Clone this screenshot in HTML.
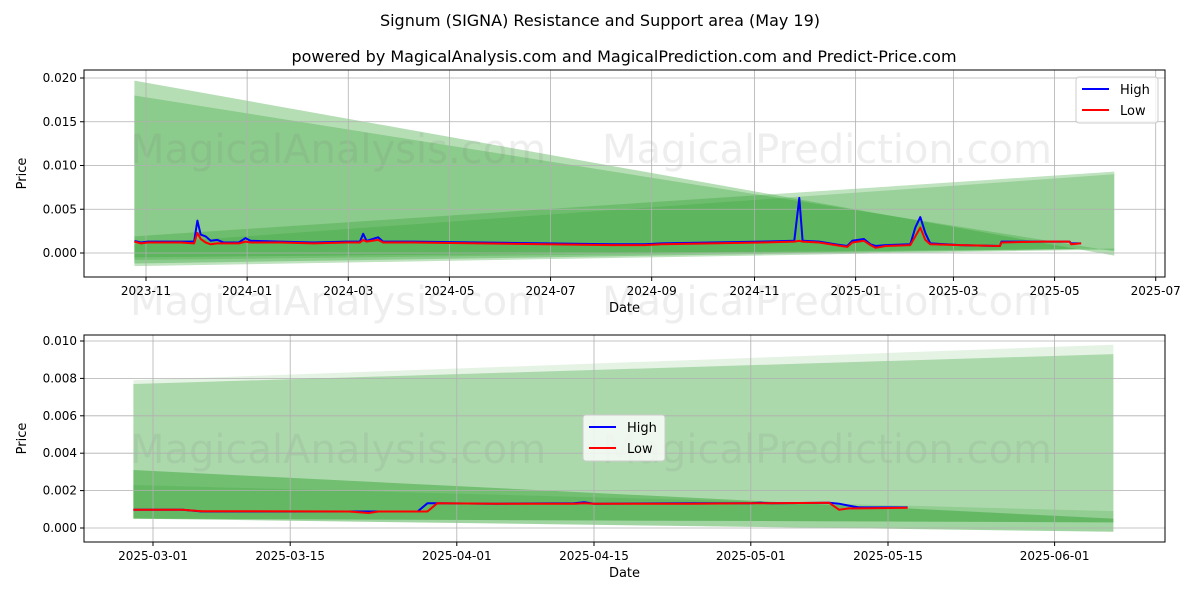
<!DOCTYPE html>
<html><head><meta charset="utf-8">
<style>
body{margin:0;background:#fff;}
svg{display:block;font-family:"DejaVu Sans","Liberation Sans",sans-serif;}
</style></head>
<body>
<svg id="chart" width="1200" height="600" viewBox="0 0 1200 600">
<rect width="1200" height="600" fill="#fff"/>
<text x="600" y="26" text-anchor="middle" font-size="16">Signum (SIGNA) Resistance and Support area (May 19)</text>
<text x="624" y="62" text-anchor="middle" font-size="16">powered by MagicalAnalysis.com and MagicalPrediction.com and Predict-Price.com</text>
<g id="top"></g>
<g id="bot"></g>
</svg>
<script>
// ---- Top chart data (day offsets from 2023-11-01) ----
const topDays = [-8,-4,0,10,20,28,30,32,35,38,42,46,55,59,62,80,100,120,128,130,132,139,142,160,200,240,280,300,310,340,370,390,393,395,405,415,422,425,432,436,439,445,460,463,466,469,472,490,514,515,540,556,557,563];
const topHigh = [.00137,.0012,.0013,.0013,.0013,.0013,.0037,.0021,.0019,.0014,.0015,.0012,.0012,.0017,.0014,.0013,.0012,.0013,.0013,.0022,.0014,.0018,.0013,.0013,.0012,.0011,.0010,.0010,.0011,.0012,.0013,.0014,.0063,.0014,.0013,.0010,.0008,.0014,.0016,.0010,.0008,.0009,.0010,.0029,.0041,.0023,.0011,.0009,.0008,.0013,.0013,.0013,.0011,.0011];
const topLow  = [.0013,.0011,.0012,.0012,.0012,.0011,.0023,.0016,.0012,.0010,.0011,.0011,.0011,.0013,.0012,.0012,.0011,.0012,.0012,.0015,.0013,.0015,.0012,.0012,.0011,.0010,.0009,.0009,.0010,.0011,.0012,.0013,.0014,.0013,.0012,.0009,.0007,.0012,.0014,.0009,.0006,.0008,.0009,.0019,.0029,.0015,.0010,.0009,.0008,.0012,.0013,.0013,.0010,.0011];
const topTickDays = [-1,60,121,182,243,304,366,427,486,547,608];
const topTickLabels = ["2023-11","2024-01","2024-03","2024-05","2024-07","2024-09","2024-11","2025-01","2025-03","2025-05","2025-07"];
const topYTicks = [0,0.005,0.01,0.015,0.02];
const topYLabels = ["0.000","0.005","0.010","0.015","0.020"];
// bands: [startTop,endTop,startBottom,endBottom]
const topBandStart = -8, topBandEnd = 583;
const topBands = [[.0197,-.0003,-.0012,.0005],[.018,.0002,-.0005,.0005],[.0019,.0093,-.0015,.0004],[.001,.009,-.0008,.0005]];

// ---- Bottom chart data (day offsets from 2025-03-01) ----
const botDays = [-2,3,5,20,22,23,27,28,29,35,43,44,45,55,61,62,63,69,70,71,72,77];
const botHigh = [.00098,.00098,.00088,.00088,.00088,.00088,.00088,.00132,.00132,.0013,.00132,.00138,.0013,.00132,.00132,.00135,.00132,.00135,.0013,.0012,.0011,.0011];
const botLow  = [.00098,.00098,.0009,.00088,.0008,.00088,.00088,.00088,.00132,.0013,.0013,.00132,.0013,.0013,.00132,.00132,.00132,.00135,.00098,.00105,.00105,.00108];
const botTickDays = [0,14,31,45,61,75,92];
const botTickLabels = ["2025-03-01","2025-03-15","2025-04-01","2025-04-15","2025-05-01","2025-05-15","2025-06-01"];
const botYTicks = [0,0.002,0.004,0.006,0.008,0.010];
const botYLabels = ["0.000","0.002","0.004","0.006","0.008","0.010"];
const botBandStart = -2, botBandEnd = 98;
const botBands = [[.0077,.0093,.0005,.0003],[.0079,.0098,.0005,.0003],[.0031,.0005,.0005,-.0002],[.0023,.0009,.0005,.0003]];

const NS="http://www.w3.org/2000/svg";
function mk(tag,attrs,parent){const e=document.createElementNS(NS,tag);for(const k in attrs)e.setAttribute(k,attrs[k]);parent.appendChild(e);return e;}

function panel(g,cfg){
  const {L,R,T,B,x,y}=cfg;
  cfg.bands.forEach((b,i)=>{
    const p=mk('polygon',{points:`${x(cfg.bs)},${y(b[0])} ${x(cfg.be)},${y(b[1])} ${x(cfg.be)},${y(b[3])} ${x(cfg.bs)},${y(b[2])}`,fill:'rgb(44,160,44)','fill-opacity':cfg.alphas[i]},g);
    
    
  });
  cfg.wm.forEach(w=>{
    const t=mk('text',{x:w[0],y:w[1],'font-size':40,fill:'rgba(120,120,120,0.13)'},g);
    t.textContent=w[2];
    
    
  });
  cfg.xt.forEach((d,i)=>{
    const X=x(d);
    mk('line',{x1:X,x2:X,y1:T,y2:B,stroke:'#b0b0b0','stroke-width':0.8},g);
    mk('line',{x1:X,x2:X,y1:B,y2:B+4,stroke:'#000'},g);
    const t=mk('text',{x:X,y:B+18,'font-size':12,'text-anchor':'middle'},g);
    t.textContent=cfg.xl[i];
    
    
  });
  cfg.yt.forEach((v,i)=>{
    const Y=y(v);
    mk('line',{x1:L,x2:R,y1:Y,y2:Y,stroke:'#b0b0b0','stroke-width':0.8},g);
    mk('line',{x1:L-4,x2:L,y1:Y,y2:Y,stroke:'#000'},g);
    const t=mk('text',{x:L-7,y:Y+4,'font-size':12,'text-anchor':'end'},g);
    t.textContent=cfg.yl[i];
    
    
  });
  const mkLine=(vals,color,name)=>{
    const pts=cfg.days.map((d,i)=>`${x(d).toFixed(1)},${y(vals[i]).toFixed(1)}`).join(' ');
    const pl=mk('polyline',{points:pts,fill:'none',stroke:color,'stroke-width':2,'stroke-linejoin':'round'},g);
    
    
  };
  mkLine(cfg.high,'#0000ff','high-line');
  mkLine(cfg.low,'#ff0000','low-line');
  const fr=mk('rect',{x:L,y:T,width:R-L,height:B-T,fill:'none',stroke:'#000','stroke-width':1},g);
  
  
  const xl=mk('text',{x:(L+R)/2,y:B+35,'font-size':13,'text-anchor':'middle'},g);
  xl.textContent='Date';
  
  
  const yl=mk('text',{x:0,y:0,'font-size':13,'text-anchor':'middle',transform:`translate(26,${(T+B)/2}) rotate(-90)`},g);
  yl.textContent='Price';
  
  
  const [lx,ly]=cfg.leg;
  const lg=mk('g',{},g);
  
  
  mk('rect',{x:lx,y:ly,width:82,height:46,rx:3,fill:'rgba(255,255,255,0.8)',stroke:'#ccc'},lg);
  [['High','#0000ff'],['Low','#ff0000']].forEach((e,i)=>{
    const yy=ly+12+i*21;
    mk('line',{x1:lx+6,x2:lx+33,y1:yy,y2:yy,stroke:e[1],'stroke-width':2},lg);
    const t=mk('text',{x:lx+44,y:yy+5,'font-size':13},lg);
    t.textContent=e[0];
    
    
  });
}

const tL=84,tR=1165,tT=70,tB=277;
panel(document.getElementById('top'),{L:tL,R:tR,T:tT,B:tB,
  x:d=>146+(d+1)*1.658, y:v=>253-v*8750,
  bands:topBands,bs:topBandStart,be:topBandEnd,alphas:[0.35,0.3,0.3,0.25],
  xt:topTickDays,xl:topTickLabels,yt:topYTicks,yl:topYLabels,
  days:topDays,high:topHigh,low:topLow,leg:[1076,77],
  wm:[[130,163,'MagicalAnalysis.com'],[602,163,'MagicalPrediction.com'],[130,315,'MagicalAnalysis.com'],[602,315,'MagicalPrediction.com']]});

const bL=84,bR=1165,bT=335,bB=542;
panel(document.getElementById('bot'),{L:bL,R:bR,T:bT,B:bB,
  x:d=>153+d*9.8, y:v=>528-v*18700,
  bands:botBands,bs:botBandStart,be:botBandEnd,alphas:[0.3,0.12,0.45,0.2],
  xt:botTickDays,xl:botTickLabels,yt:botYTicks,yl:botYLabels,
  days:botDays,high:botHigh,low:botLow,leg:[583,415],
  wm:[[130,463,'MagicalAnalysis.com'],[602,463,'MagicalPrediction.com']]});
</script>
</body></html>
